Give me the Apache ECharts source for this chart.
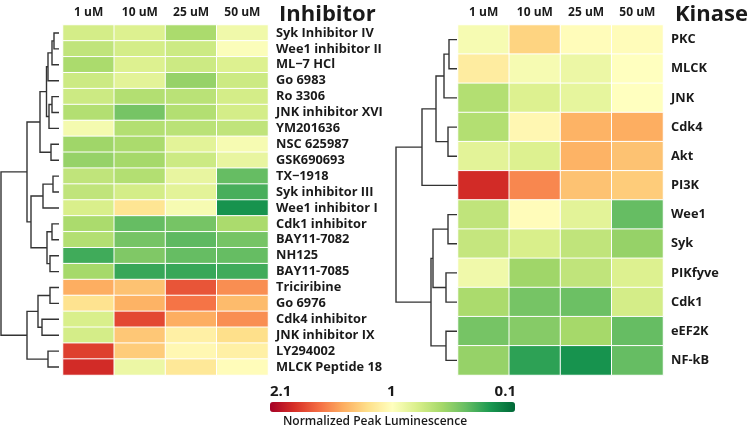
<!DOCTYPE html>
<html><head><meta charset="utf-8">
<script src="https://cdn.jsdelivr.net/npm/echarts@6/dist/echarts.min.js"></script>
<style>html,body{margin:0;padding:0;background:#fff}#c{width:750px;height:427px}</style>
</head><body><div id="c"></div>
<script>
const concentrations = ['1 uM', '10 uM', '25 uM', '50 uM'];

const inhibitors = ['Syk Inhibitor IV', 'Wee1 inhibitor II', 'ML\u22127 HCl', 'Go 6983', 'Ro 3306',
  'JNK inhibitor XVI', 'YM201636', 'NSC 625987', 'GSK690693', 'TX\u22121918', 'Syk inhibitor III',
  'Wee1 inhibitor I', 'Cdk1 inhibitor', 'BAY11-7082', 'NH125', 'BAY11-7085', 'Triciribine',
  'Go 6976', 'Cdk4 inhibitor', 'JNK inhibitor IX', 'LY294002', 'MLCK Peptide 18'];

const inhibitorValues = [
  [0.88, 0.92, 0.72, 1.02],
  [0.80, 0.88, 0.85, 1.08],
  [0.72, 0.92, 0.85, 0.92],
  [0.85, 0.95, 0.65, 0.85],
  [0.85, 0.75, 0.78, 0.88],
  [0.75, 0.55, 0.75, 0.88],
  [1.04, 0.75, 0.78, 0.80],
  [0.68, 0.72, 0.95, 1.05],
  [0.65, 0.70, 0.85, 0.98],
  [0.80, 0.75, 0.98, 0.50],
  [0.80, 0.88, 0.95, 0.42],
  [0.90, 1.27, 1.05, 0.28],
  [0.72, 0.50, 0.55, 0.72],
  [0.75, 0.55, 0.48, 0.55],
  [0.40, 0.58, 0.50, 0.50],
  [0.70, 0.38, 0.38, 0.40],
  [1.50, 1.42, 1.78, 1.60],
  [1.28, 1.48, 1.68, 1.45],
  [0.90, 1.82, 1.50, 1.60],
  [0.88, 1.40, 1.20, 1.30],
  [1.85, 1.38, 1.15, 1.20],
  [1.92, 1.00, 1.25, 1.12]
];

const kinases = ['PKC', 'MLCK', 'JNK', 'Cdk4', 'Akt', 'PI3K', 'Wee1', 'Syk', 'PIKfyve', 'Cdk1', 'eEF2K', 'NF-kB'];

const kinaseValues = [
  [1.05, 1.35, 1.12, 1.12],
  [1.22, 1.05, 1.00, 1.10],
  [0.75, 0.92, 0.97, 1.10],
  [0.75, 1.15, 1.48, 1.50],
  [0.95, 0.92, 1.48, 1.42],
  [1.92, 1.62, 1.42, 1.38],
  [0.80, 1.12, 0.95, 0.50],
  [0.82, 0.90, 0.80, 0.65],
  [1.02, 0.68, 0.80, 0.92],
  [0.72, 0.55, 0.52, 0.88],
  [0.55, 0.60, 0.70, 0.50],
  [0.65, 0.35, 0.28, 0.50]
];

// linkage: [childA, childB, height]; index >= n refers to merge (index - n)
const inhibitorLinkage = [
  [0, 1, 5], [22, 2, 7], [23, 3, 11], [4, 5, 7], [25, 6, 10], [24, 26, 12.5],
  [7, 8, 8], [27, 28, 19], [9, 10, 6], [30, 11, 16], [12, 13, 7], [14, 15, 9],
  [32, 33, 12], [31, 34, 28], [29, 35, 32], [16, 17, 9], [18, 19, 17], [37, 38, 21],
  [20, 21, 11], [39, 40, 32], [36, 41, 58]
];
const kinaseLinkage = [
  [0, 1, 8], [12, 2, 13], [3, 4, 9], [13, 14, 21], [15, 5, 35], [6, 7, 9],
  [8, 9, 11], [17, 18, 24], [10, 11, 11], [19, 20, 26], [16, 21, 61]
];

const colorbarLabels = ['2.1', '1', '0.1'];
const colorbarTitle = 'Normalized Peak Luminescence';

function dendroLines(linkage, n) {
  const pos = [];
  for (let i = 0; i < n; i++) pos.push({ y: i, h: 0 });
  const out = [];
  linkage.forEach(([a, b, h]) => {
    const A = pos[a], B = pos[b];
    out.push({ coords: [[A.h, A.y], [h, A.y], [h, B.y], [B.h, B.y]] });
    pos.push({ y: (A.y + B.y) / 2, h: h });
  });
  return out;
}
function cells(values) {
  const d = [];
  values.forEach((row, r) => row.forEach((v, c) => d.push([c, r, v])));
  return d;
}

const FONT = 'Open Sans';
const TXT = '#1a1a1a';
const TOP = 25, H = 350;

function heatAxes(gi, rows) {
  return {
    x: { type: 'category', gridIndex: gi, data: concentrations, position: 'top',
      axisLine: { show: false }, axisTick: { show: false },
      axisLabel: { interval: 0, fontFamily: FONT, fontWeight: 'bold', fontSize: 12, color: TXT, margin: 6 } },
    y: { type: 'category', gridIndex: gi, data: rows, inverse: true, position: 'right',
      axisLine: { show: false }, axisTick: { show: false },
      axisLabel: { interval: 0, hideOverlap: false, fontFamily: FONT, fontWeight: 'bold', fontSize: 12.8, color: TXT, margin: 8 } }
  };
}
function dendroAxes(gi, n, max) {
  return {
    x: { type: 'value', gridIndex: gi, min: 0, max: max, inverse: true, show: false },
    y: { type: 'value', gridIndex: gi, min: -0.5, max: n - 0.5, inverse: true, show: false }
  };
}
const hl = heatAxes(1, inhibitors), hr = heatAxes(3, kinases);
const dl = dendroAxes(0, inhibitors.length, 58), dr = dendroAxes(2, kinases.length, 61);

const chart = echarts.init(document.getElementById('c'), null, { renderer: 'canvas' });
chart.setOption({
  backgroundColor: '#fff',
  animation: false,
  textStyle: { fontFamily: FONT },
  title: [
    { text: 'Inhibitor', left: 274, top: -1, textStyle: { fontFamily: FONT, fontWeight: 'bold', fontSize: 22, color: TXT } },
    { text: 'Kinase', left: 670, top: -1, textStyle: { fontFamily: FONT, fontWeight: 'bold', fontSize: 22, color: TXT } }
  ],
  grid: [
    { left: 1, width: 58, top: TOP, height: H },
    { left: 63, width: 205, top: TOP, height: H },
    { left: 396, width: 61, top: TOP, height: H },
    { left: 458, width: 205, top: TOP, height: H }
  ],
  xAxis: [dl.x, hl.x, dr.x, hr.x],
  yAxis: [dl.y, hl.y, dr.y, hr.y],
  visualMap: {
    type: 'continuous', min: 0.1, max: 2.1, seriesIndex: [1, 3],
    orient: 'horizontal', inverse: true, calculable: false, text: null, showLabel: false,
    left: 255, top: 387, itemWidth: 10, itemHeight: 245,
    inRange: { color: ['#006837', '#1a9850', '#66bd63', '#a6d96a', '#d9ef8b', '#ffffbf',
      '#fee08b', '#fdae61', '#f46d43', '#d73027', '#a50026'] }
  },
  series: [
    { type: 'lines', coordinateSystem: 'cartesian2d', xAxisIndex: 0, yAxisIndex: 0, polyline: true,
      data: dendroLines(inhibitorLinkage, inhibitors.length), silent: true,
      lineStyle: { color: '#333', width: 1.4, opacity: 1 } },
    { type: 'heatmap', xAxisIndex: 1, yAxisIndex: 1, data: cells(inhibitorValues),
      itemStyle: { borderColor: '#fff', borderWidth: 1 } },
    { type: 'lines', coordinateSystem: 'cartesian2d', xAxisIndex: 2, yAxisIndex: 2, polyline: true,
      data: dendroLines(kinaseLinkage, kinases.length), silent: true,
      lineStyle: { color: '#333', width: 1.4, opacity: 1 } },
    { type: 'heatmap', xAxisIndex: 3, yAxisIndex: 3, data: cells(kinaseValues),
      itemStyle: { borderColor: '#fff', borderWidth: 1 } }
  ],
  graphic: [
    { type: 'text', left: 270, top: 384, style: { text: colorbarLabels[0], font: 'bold 15px "' + FONT + '"', fill: TXT } },
    { type: 'text', left: 387, top: 384, style: { text: colorbarLabels[1], font: 'bold 15px "' + FONT + '"', fill: TXT } },
    { type: 'text', right: 234, top: 384, style: { text: colorbarLabels[2], font: 'bold 15px "' + FONT + '"', fill: TXT } },
    { type: 'text', left: 'center', top: 416, style: { text: colorbarTitle, font: '600 12px "' + FONT + '"', fill: TXT }, x: 16 }
  ]
});
</script></body></html>
